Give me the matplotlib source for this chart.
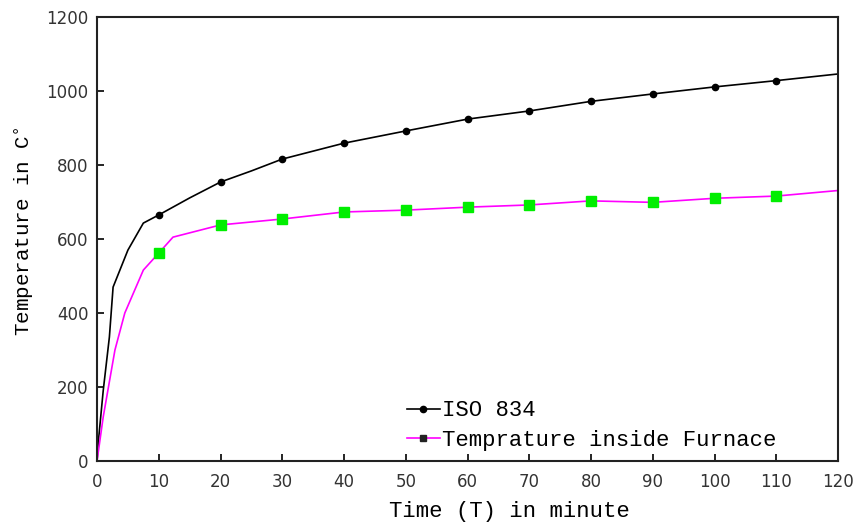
import matplotlib.pyplot as plt
from matplotlib.lines import Line2D

# ISO 834 standard curve
iso_t = [0, 0.2, 1, 2, 2.6, 5, 7.5, 10, 15, 20, 25, 30, 40, 50, 60, 70, 80, 90, 100, 110, 120]
iso_T = [0, 50, 190, 335, 470, 570, 643, 665, 711, 754, 784, 816, 859, 892, 924, 946, 972, 992, 1011, 1028, 1046]
iso_mark_t = [10, 20, 30, 40, 50, 60, 70, 80, 90, 100, 110]
iso_mark_T = [665, 754, 816, 859, 892, 924, 946, 972, 992, 1011, 1028]

# furnace measurement
fur_t = [0, 1, 2.9, 4.5, 7.5, 10, 12.3, 20, 30, 40, 50, 60, 70, 80, 90, 100, 110, 120]
fur_T = [0, 119, 300, 400, 516, 562, 605, 638, 654, 673, 678, 686, 692, 703, 699, 710, 716, 731]
fur_mark_t = [10, 20, 30, 40, 50, 60, 70, 80, 90, 100, 110]
fur_mark_T = [562, 638, 654, 673, 678, 686, 692, 703, 699, 710, 716]

fig = plt.figure(figsize=(8.61, 5.26), dpi=100)
ax = fig.add_axes([0.1127, 0.1236, 0.8606, 0.8441])

ax.plot(iso_t, iso_T, color='black', linewidth=1.2)
ax.plot(iso_mark_t, iso_mark_T, linestyle='none', marker='o', markersize=4.5, color='black')
ax.plot(fur_t, fur_T, color='#ff00ff', linewidth=1.2)
ax.plot(fur_mark_t, fur_mark_T, linestyle='none', marker='s', markersize=7, color='#00ee00')

ax.set_xlim(0, 120)
ax.set_ylim(0, 1200)
ax.set_xticks(range(0, 121, 10))
ax.set_yticks(range(0, 1201, 200))
ax.tick_params(direction='in', length=5, width=1.2, labelsize=12, labelcolor='#333333',
               top=False, right=False)
ax.tick_params(axis='x', pad=9)
ax.tick_params(axis='y', pad=6)
for s in ax.spines.values():
    s.set_linewidth(1.5)
    s.set_color('#222222')

mono = {'family': 'Liberation Mono', 'size': 16}
ax.set_xlabel('Time (T) in minute', fontdict=mono)
ax.set_ylabel(r'Temperature in C$^{\circ}$', fontdict={'family': 'Liberation Mono', 'size': 15})
# the original labels sit a little off-centre
ax.xaxis.set_label_coords(0.557, -0.09)
ax.yaxis.set_label_coords(-0.083, 0.518)

handles = [
    Line2D([], [], color='black', linewidth=1.2, marker='o', markersize=4.5),
    Line2D([], [], color='#ff00ff', linewidth=1.2, marker='s', markersize=5,
           markerfacecolor='#222222', markeredgecolor='#222222'),
]
ax.legend(handles, ['ISO 834', 'Temprature inside Furnace'], loc='lower left',
          bbox_to_anchor=(0.403, -0.003), frameon=False, borderpad=0,
          handlelength=1.5, handletextpad=0.1, labelspacing=0.4, prop=mono)

fig.savefig('out.png', dpi=100)
